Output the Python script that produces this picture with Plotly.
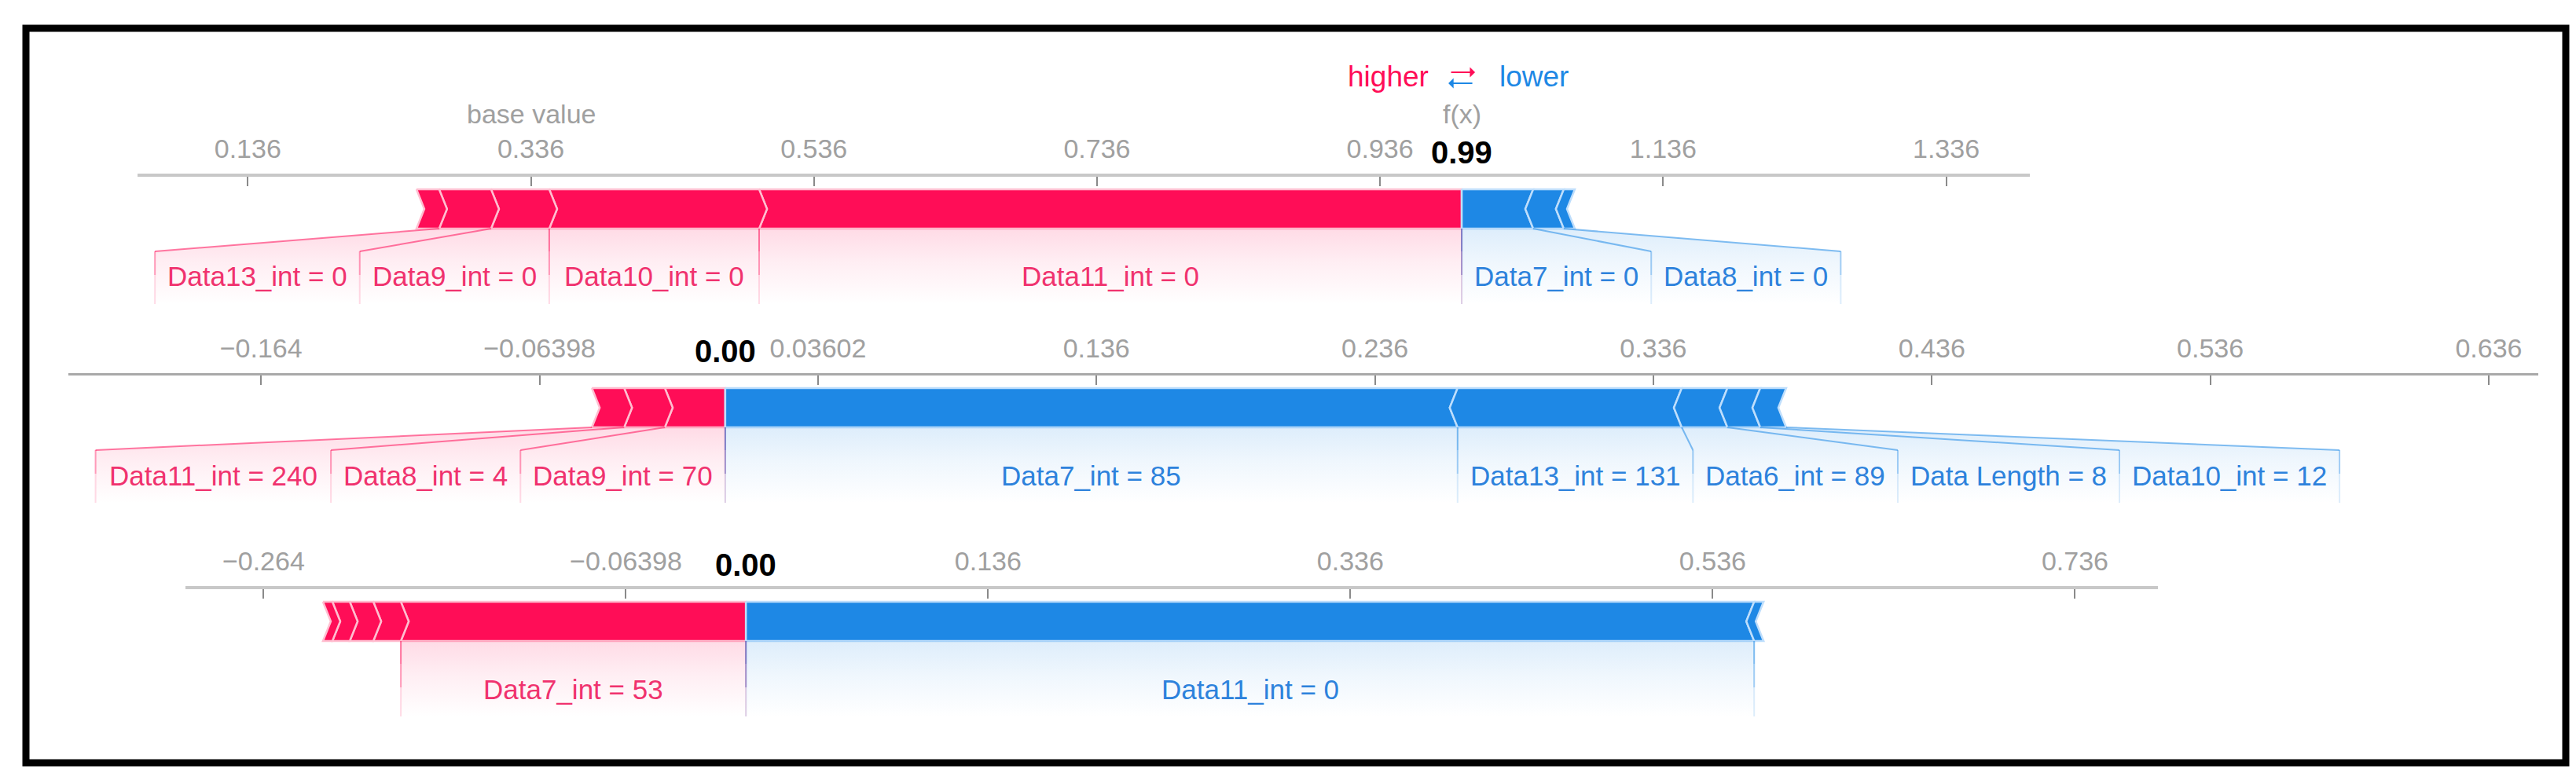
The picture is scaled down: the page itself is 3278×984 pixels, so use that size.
import plotly.graph_objects as go

W, H = 3278, 984
FONT = "Liberation Sans, Arial, sans-serif"
RED = "rgb(255,13,87)"
BLUE = "rgb(30,136,229)"
RED_TXT = "rgb(240,50,110)"
BLUE_TXT = "rgb(45,130,220)"
GRAY_TXT = "rgb(160,160,160)"

# ---------------- data ----------------
BASE_VALUE = 0.336

# panel 1 (features pushing higher listed from f(x) outward, then lower)
p1_fx = 0.9937
p1_pos_labels = ["Data11_int = 0", "Data10_int = 0", "Data9_int = 0", "Data13_int = 0", ""]
p1_pos_values = [0.4964, 0.1483, 0.0411, 0.0367, 0.0160]
p1_neg_labels = ["Data7_int = 0", "Data8_int = 0", ""]
p1_neg_values = [0.0505, 0.0216, 0.0078]
p1_tick_vals = [0.136, 0.336, 0.536, 0.736, 0.936, 1.136, 1.336]
p1_tick_text = ["0.136", "0.336", "0.536", "0.736", "0.936", "1.136", "1.336"]

# panel 2
p2_fx = 0.0027
p2_pos_labels = ["Data9_int = 70", "Data8_int = 4", "Data11_int = 240"]
p2_pos_values = [0.0217, 0.0146, 0.0116]
p2_neg_labels = ["Data7_int = 85", "Data13_int = 131", "Data6_int = 89", "Data Length = 8", "Data10_int = 12"]
p2_neg_values = [0.2630, 0.0805, 0.0164, 0.0118, 0.0093]
p2_tick_vals = [-0.164, -0.06398, 0.03602, 0.136, 0.236, 0.336, 0.436, 0.536, 0.636]
p2_tick_text = ["\u22120.164", "\u22120.06398", "0.03602", "0.136", "0.236", "0.336", "0.436", "0.536", "0.636"]

# panel 3
p3_fx = 0.0023
p3_pos_labels = ["Data7_int = 53", "", "", "", ""]
p3_pos_values = [0.1905, 0.0152, 0.0130, 0.0096, 0.0052]
p3_neg_labels = ["Data11_int = 0", ""]
p3_neg_values = [0.5566, 0.0052]
p3_tick_vals = [-0.264, -0.06398, 0.136, 0.336, 0.536, 0.736]
p3_tick_text = ["\u22120.264", "\u22120.06398", "0.136", "0.336", "0.536", "0.736"]

# ---------------- layout / style ----------------
PANEL_AXIS_Y = [217, 470, 742]                       # px from top
PANEL_X_PX = [(167, 2575), (79, 3222), (228, 2738)]   # axis line extent, px
PANEL_RANGE = [(0.0581, 1.3951), (-0.2332, 0.6538), (-0.3071, 0.7818)]
PANEL_LINE = [("#c8c8c8", 4), ("#a9a9a9", 3), ("#c8c8c8", 4)]
DOM_H = 175
BAR_TOP, BAR_BOT = -16, -66
BAR_MID = (BAR_TOP + BAR_BOT) / 2
NOTCH_PX = 10
REG_TOP, TEXT_Y, REG_BOT = -95, -127, -162
PAD = 16
LABEL_SIZE = 35
TICK_SIZE = 34

CHAR_W = {"D": 0.722, "a": 0.556, "t": 0.278, "_": 0.556, "i": 0.222, "n": 0.556, " ": 0.278,
          "=": 0.584, "L": 0.556, "e": 0.556, "g": 0.556, "h": 0.556}


def text_px(s, size):
    return sum(CHAR_W.get(c, 0.556) for c in s) * size


def py(px):
    return 1 - px / H


fig = go.Figure()
annotations = []


def add_poly(xs, ys, xa, ya, fill=None, line_color="rgba(0,0,0,0)", lw=0, grad=None):
    kw = dict(x=xs + [xs[0]], y=ys + [ys[0]], xaxis=xa, yaxis=ya, mode="lines", fill="toself",
              line=dict(color=line_color, width=lw), hoverinfo="skip", showlegend=False)
    if grad is not None:
        kw["fillgradient"] = grad
    else:
        kw["fillcolor"] = fill
    fig.add_trace(go.Scatter(**kw))


def add_lines(xs, ys, xa, ya, color, lw):
    fig.add_trace(go.Scatter(x=xs, y=ys, xaxis=xa, yaxis=ya, mode="lines",
                             line=dict(color=color, width=lw), hoverinfo="skip", showlegend=False))


def rgba(c, a):
    return c.replace("rgb(", "rgba(").replace(")", f",{a})")


def panel(k, fx, pos_v, pos_l, neg_v, neg_l, tick_vals, tick_text):
    xa = "x" if k == 1 else f"x{k}"
    ya = "y" if k == 1 else f"y{k}"
    axis_y = PANEL_AXIS_Y[k - 1]
    x_px = PANEL_X_PX[k - 1]
    rng = PANEL_RANGE[k - 1]
    lc, lw = PANEL_LINE[k - 1]
    ppu = (x_px[1] - x_px[0]) / (rng[1] - rng[0])
    notch = NOTCH_PX / ppu

    fig.update_layout(**{
        ("xaxis" if k == 1 else f"xaxis{k}"): dict(
            domain=[x_px[0] / W, x_px[1] / W], range=list(rng), anchor=ya, side="top",
            showline=True, linecolor=lc, linewidth=lw,
            ticks="inside", ticklen=12, tickwidth=1.5, tickcolor="#8a8a8a",
            tickmode="array", tickvals=tick_vals, ticktext=tick_text,
            tickfont=dict(family=FONT, size=TICK_SIZE, color=GRAY_TXT),
            ticklabelstandoff=6,
            showgrid=False, zeroline=False, fixedrange=True),
        ("yaxis" if k == 1 else f"yaxis{k}"): dict(
            domain=[py(axis_y + DOM_H), py(axis_y)], range=[-DOM_H, 0], visible=False,
            fixedrange=True, anchor=xa),
    })

    # ---- bar segments ----
    red_segs, blue_segs = [], []
    cur = fx
    for i, (v, lab) in enumerate(zip(pos_v, pos_l)):
        x1, x0 = cur, cur - v
        cur = x0
        xs = [x0, x1, x1 + (notch if i > 0 else 0), x1, x0, x0 + notch]
        ys = [BAR_TOP, BAR_TOP, BAR_MID, BAR_BOT, BAR_BOT, BAR_MID]
        add_poly(xs, ys, xa, ya, fill=RED, line_color="rgb(255,190,208)", lw=2.5)
        red_segs.append((x0, x1, lab))
    cur = fx
    for i, (v, lab) in enumerate(zip(neg_v, neg_l)):
        x0, x1 = cur, cur + v
        cur = x1
        xs = [x0, x1, x1 - notch, x1, x0, x0 - (notch if i > 0 else 0)]
        ys = [BAR_TOP, BAR_TOP, BAR_MID, BAR_BOT, BAR_BOT, BAR_MID]
        add_poly(xs, ys, xa, ya, fill=BLUE, line_color="rgb(190,222,252)", lw=2.5)
        blue_segs.append((x0, x1, lab))

    # ---- label layout ----
    def do_labels(segs, color, txt_color, direction):
        last = fx
        boxes = []
        for (x0, x1, lab) in segs:
            if not lab:
                continue
            tw = text_px(lab, LABEL_SIZE)
            bw = max(tw + 2 * PAD, (x1 - x0) * ppu) / ppu
            c = (x0 + x1) / 2
            if direction < 0:
                right = min(c + bw / 2, last)
                left = right - bw
                last = left
            else:
                left = max(c - bw / 2, last)
                right = left + bw
                last = right
            boxes.append((x0, x1, left, right, lab))
        for (x0, x1, left, right, lab) in boxes:
            add_poly([x0, x1, right, right, left, left],
                     [BAR_BOT, BAR_BOT, REG_TOP, REG_BOT, REG_BOT, REG_TOP], xa, ya,
                     grad=dict(type="vertical",
                               colorscale=[[0, rgba(color, 0)], [0.55, rgba(color, 0.07)],
                                           [1, rgba(color, 0.15)]]))
            annotations.append(dict(x=(left + right) / 2, y=TEXT_Y, xref=xa, yref=ya,
                                    text=lab, showarrow=False, xanchor="center", yanchor="middle",
                                    font=dict(family=FONT, size=LABEL_SIZE, color=txt_color)))
        # boundary lines
        sx, sy, vx1, vy1, vx2, vy2 = [], [], [], [], [], []
        for j, (x0, x1, left, right, lab) in enumerate(boxes):
            edges = []
            inner = (x1, right) if direction < 0 else (x0, left)
            outer = (x0, left) if direction < 0 else (x1, right)
            edges.append(inner)
            if j == len(boxes) - 1:
                edges.append(outer)
            for (xb, xl) in edges:
                sx += [xb, xl, None]
                sy += [BAR_BOT, REG_TOP, None]
                vx1 += [xl, xl, None]
                vy1 += [REG_TOP, REG_TOP - 30, None]
                vx2 += [xl, xl, None]
                vy2 += [REG_TOP - 30, REG_BOT, None]
        add_lines(sx, sy, xa, ya, rgba(color, 0.55), 2)
        add_lines(vx1, vy1, xa, ya, rgba(color, 0.4), 2)
        add_lines(vx2, vy2, xa, ya, rgba(color, 0.15), 2)

    do_labels(red_segs, RED, RED_TXT, -1)
    do_labels(blue_segs, BLUE, BLUE_TXT, +1)

    # bold output value
    annotations.append(dict(x=fx, y=py(axis_y - 31), xref=xa, yref="paper",
                            text=f"<b>{abs(fx):.2f}</b>", showarrow=False,
                            xanchor="center", yanchor="middle",
                            font=dict(family=FONT, size=40, color="black")))
    return xa


xa1 = panel(1, p1_fx, p1_pos_values, p1_pos_labels, p1_neg_values, p1_neg_labels, p1_tick_vals, p1_tick_text)
panel(2, p2_fx, p2_pos_values, p2_pos_labels, p2_neg_values, p2_neg_labels, p2_tick_vals, p2_tick_text)
panel(3, p3_fx, p3_pos_values, p3_pos_labels, p3_neg_values, p3_neg_labels, p3_tick_vals, p3_tick_text)

# panel 1 headers
annotations += [
    dict(x=BASE_VALUE, y=py(137), xref=xa1, yref="paper", text="base value", showarrow=False,
         xanchor="center", yanchor="middle", font=dict(family=FONT, size=34, color=GRAY_TXT)),
    dict(x=p1_fx, y=py(137), xref=xa1, yref="paper", text="f(x)", showarrow=False,
         xanchor="center", yanchor="middle", font=dict(family=FONT, size=34, color=GRAY_TXT)),
    dict(x=p1_fx, y=py(90), xref=xa1, yref="paper", text="higher", showarrow=False,
         xanchor="right", yanchor="middle", xshift=-40, font=dict(family=FONT, size=37, color=RED)),
    dict(x=p1_fx, y=py(90), xref=xa1, yref="paper", text="lower", showarrow=False,
         xanchor="left", yanchor="middle", xshift=46, font=dict(family=FONT, size=37, color=BLUE)),
    dict(x=p1_fx, y=py(84), xref=xa1, yref="paper", text="", showarrow=True, xshift=17,
         ax=-32, ay=0, arrowhead=1, arrowsize=1, arrowwidth=2.2, arrowcolor=RED),
    dict(x=p1_fx, y=py(98), xref=xa1, yref="paper", text="", showarrow=True, xshift=-17,
         ax=32, ay=0, arrowhead=1, arrowsize=1, arrowwidth=2.2, arrowcolor=BLUE),
]

fig.update_layout(
    width=W, height=H, autosize=False,
    margin=dict(l=0, r=0, t=0, b=0),
    paper_bgcolor="white", plot_bgcolor="white",
    showlegend=False, hovermode=False,
    annotations=annotations,
    shapes=[dict(type="rect", xref="paper", yref="paper",
                 x0=25 / W, x1=3257 / W, y0=py(963), y1=py(28),
                 line=dict(color="black", width=9), fillcolor="rgba(0,0,0,0)", layer="above")],
)

fig.write_html("out.html", config={"displayModeBar": False})
